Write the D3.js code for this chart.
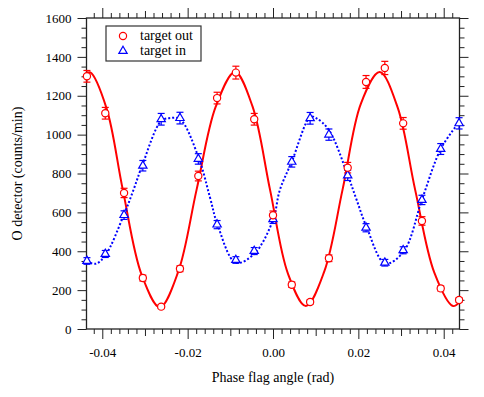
<!DOCTYPE html>
<html>
<head>
<meta charset="utf-8">
<script src="https://d3js.org/d3.v7.min.js"></script>
<style>
  body { margin: 0; background: #fff; }
</style>
</head>
<body>
<div class="chart"></div>
<script>
// measured points (phase flag angle, rad)
const angles = [-0.0436, -0.0393, -0.0349, -0.0305, -0.0262, -0.0218, -0.0175, -0.0131, -0.0087, -0.0044,
  0.0000, 0.0044, 0.0087, 0.0131, 0.0175, 0.0218, 0.0262, 0.0305, 0.0349, 0.0393, 0.0436];
const targetOut = [1300, 1110, 700, 262, 115, 310, 787, 1188, 1319, 1079, 585, 228, 139, 364, 830, 1271, 1343, 1058, 556, 209, 149];
const targetOutErr = [30, 30, 24, 15, 10, 15, 25, 30, 33, 30, 22, 14, 11, 17, 27, 33, 34, 30, 22, 13, 11];
const targetIn = [350, 386, 586, 840, 1079, 1085, 875, 537, 355, 401, 565, 860, 1084, 1000, 790, 521, 341, 405, 664, 926, 1058];
const targetInErr = [17, 18, 22, 27, 30, 30, 27, 21, 17, 18, 22, 27, 30, 29, 26, 21, 17, 18, 24, 28, 29];

// fitted curves
const fitOutX = [-0.0437, -0.0428, -0.0390, -0.0352, -0.0308, -0.0265, -0.0222, -0.0179, -0.0134, -0.0089, -0.0048,
  -0.0007, 0.0035, 0.0077, 0.0120, 0.0163, 0.0206, 0.0250, 0.0292, 0.0333, 0.0378, 0.0422, 0.0437];
const fitOutY = [1316, 1320, 1135, 717, 280, 112, 295, 717, 1145, 1322, 1145, 717, 285, 118, 295, 717, 1160, 1322, 1140, 717, 290, 118, 140];
const fitInX = [-0.0437, -0.0415, -0.0393, -0.0349, -0.0327, -0.0306, -0.0262, -0.0241, -0.0218, -0.0175, -0.0148,
  -0.0131, -0.0087, -0.0043, 0.0000, 0.0016, 0.0044, 0.0088, 0.0102, 0.0131, 0.0175, 0.0196, 0.0219, 0.0263,
  0.0306, 0.0350, 0.0394, 0.0437];
const fitInY = [346, 336, 378, 590, 715, 844, 1070, 1085, 1080, 886, 680, 544, 341, 389, 561, 715, 861, 1092, 1084, 1024,
  792, 664, 526, 337, 398, 672, 930, 1066];

const xMajor = [-0.04, -0.02, 0.00, 0.02, 0.04];
const xMid = [-0.03, -0.01, 0.01, 0.03];
const yMajor = [0, 200, 400, 600, 800, 1000, 1200, 1400, 1600];
const legendLabels = ["target out", "target in"];

const width = 484, height = 397;
const plotL = 86.5, plotR = 459.5, plotT = 18, plotB = 329;
const serif = "'Liberation Serif', 'DejaVu Serif', 'Times New Roman', serif";

const svg = d3.select(".chart").append("svg")
    .attr("width", width)
    .attr("height", height)
    .style("font-family", serif);

const x = d3.scaleLinear().domain([-0.0437, 0.0437]).range([plotL, plotR]);
const y = d3.scaleLinear().domain([0, 1600]).range([plotB, plotT]);

const xMinor = d3.range(-0.042, 0.0431, 0.002).filter(v => !xMajor.concat(xMid).some(m => Math.abs(m - v) < 1e-6));
const yMinor = d3.range(0, 1601, 50).filter(v => v % 200 !== 0);

function styleAxis(g) {
    g.attr("font-family", null).attr("font-size", null);
    g.select(".domain").remove();
    g.selectAll("line").attr("stroke", "#222").attr("stroke-width", 1);
    g.selectAll("text")
        .style("font-family", serif)
        .style("font-size", "13px")
        .attr("fill", "#000");
}

// bottom
svg.append("g").attr("transform", `translate(0,${plotB})`)
    .call(d3.axisBottom(x).tickValues(xMinor).tickSize(5).tickFormat("")).call(styleAxis);
svg.append("g").attr("transform", `translate(0,${plotB})`)
    .call(d3.axisBottom(x).tickValues(xMid).tickSize(7).tickFormat("")).call(styleAxis);
svg.append("g").attr("transform", `translate(0,${plotB})`)
    .call(d3.axisBottom(x).tickValues(xMajor).tickSize(10).tickPadding(9)
        .tickFormat(d => d3.format(".2f")(d).replace("\u2212", "-"))).call(styleAxis);
// top
svg.append("g").attr("transform", `translate(0,${plotT})`)
    .call(d3.axisTop(x).tickValues(xMinor).tickSize(5).tickFormat("")).call(styleAxis);
svg.append("g").attr("transform", `translate(0,${plotT})`)
    .call(d3.axisTop(x).tickValues(xMid).tickSize(7).tickFormat("")).call(styleAxis);
svg.append("g").attr("transform", `translate(0,${plotT})`)
    .call(d3.axisTop(x).tickValues(xMajor).tickSize(10).tickFormat("")).call(styleAxis);
// left
svg.append("g").attr("transform", `translate(${plotL},0)`)
    .call(d3.axisLeft(y).tickValues(yMinor).tickSize(5).tickFormat("")).call(styleAxis);
svg.append("g").attr("transform", `translate(${plotL},0)`)
    .call(d3.axisLeft(y).tickValues(yMajor).tickSize(9).tickPadding(6).tickFormat(d3.format("d"))).call(styleAxis);
// right
svg.append("g").attr("transform", `translate(${plotR},0)`)
    .call(d3.axisRight(y).tickValues(yMinor).tickSize(5).tickFormat("")).call(styleAxis);
svg.append("g").attr("transform", `translate(${plotR},0)`)
    .call(d3.axisRight(y).tickValues(yMajor).tickSize(9).tickFormat("")).call(styleAxis);

// frame
svg.append("rect")
    .attr("x", plotL).attr("y", plotT)
    .attr("width", plotR - plotL).attr("height", plotB - plotT)
    .attr("fill", "none").attr("stroke", "#222").attr("stroke-width", 1.3);

// axis titles
svg.append("text")
    .attr("x", x(0)).attr("y", 382)
    .attr("text-anchor", "middle")
    .style("font-family", serif)
    .style("font-size", "14px")
    .text("Phase flag angle (rad)");
svg.append("text")
    .attr("transform", `translate(22,${(plotT + plotB) / 2}) rotate(-90)`)
    .attr("text-anchor", "middle")
    .style("font-family", serif)
    .style("font-size", "14px")
    .text("O detector (counts/min)");

// fitted curves
svg.append("clipPath").attr("id", "plot")
    .append("rect").attr("x", plotL).attr("y", plotT).attr("width", plotR - plotL).attr("height", plotB - plotT);

const line = d3.line()
    .x(d => x(d[0]))
    .y(d => y(d[1]))
    .curve(d3.curveCatmullRom.alpha(0.5));

svg.append("path")
    .datum(fitOutX.map((v, i) => [v, fitOutY[i]]))
    .attr("clip-path", "url(#plot)")
    .attr("fill", "none")
    .attr("stroke", "#ff0000")
    .attr("stroke-width", 2)
    .attr("d", line);

svg.append("path")
    .datum(fitInX.map((v, i) => [v, fitInY[i]]))
    .attr("clip-path", "url(#plot)")
    .attr("fill", "none")
    .attr("stroke", "#0000ff")
    .attr("stroke-width", 2)
    .attr("stroke-dasharray", "2,2")
    .attr("d", line);

// error bars
function errorBars(values, errs, color) {
    const g = svg.append("g").attr("stroke", color).attr("stroke-width", 1.2);
    const pts = angles.map((a, i) => ({ a, v: values[i], e: errs[i] }));
    g.selectAll(".bar").data(pts).enter().append("line")
        .attr("x1", d => x(d.a)).attr("x2", d => x(d.a))
        .attr("y1", d => y(d.v - d.e)).attr("y2", d => y(d.v + d.e));
    g.selectAll(".capHi").data(pts).enter().append("line")
        .attr("x1", d => x(d.a) - 3.5).attr("x2", d => x(d.a) + 3.5)
        .attr("y1", d => y(d.v + d.e)).attr("y2", d => y(d.v + d.e));
    g.selectAll(".capLo").data(pts).enter().append("line")
        .attr("x1", d => x(d.a) - 3.5).attr("x2", d => x(d.a) + 3.5)
        .attr("y1", d => y(d.v - d.e)).attr("y2", d => y(d.v - d.e));
}
errorBars(targetIn, targetInErr, "#0000ff");
errorBars(targetOut, targetOutErr, "#ff0000");

const tri = d3.symbol().type(d3.symbolTriangle).size(30);

// markers
svg.append("g").selectAll("path")
    .data(angles.map((a, i) => [a, targetIn[i]]))
    .enter().append("path")
    .attr("transform", d => `translate(${x(d[0])},${y(d[1])})`)
    .attr("d", tri)
    .attr("fill", "#fff")
    .attr("stroke", "#0000ff")
    .attr("stroke-width", 1.2);

svg.append("g").selectAll("circle")
    .data(angles.map((a, i) => [a, targetOut[i]]))
    .enter().append("circle")
    .attr("cx", d => x(d[0]))
    .attr("cy", d => y(d[1]))
    .attr("r", 3.6)
    .attr("fill", "#fff")
    .attr("stroke", "#ff0000")
    .attr("stroke-width", 1.2);

// legend
const legend = svg.append("g");
legend.append("rect")
    .attr("x", 106).attr("y", 26).attr("width", 95).attr("height", 35)
    .attr("fill", "#fff").attr("stroke", "#333").attr("stroke-width", 1.2);
legend.append("circle")
    .attr("cx", 123).attr("cy", 36).attr("r", 3.6)
    .attr("fill", "#fff").attr("stroke", "#ff0000").attr("stroke-width", 1.2);
legend.append("path")
    .attr("transform", "translate(123,51)")
    .attr("d", tri)
    .attr("fill", "#fff").attr("stroke", "#0000ff").attr("stroke-width", 1.2);
legend.selectAll(".lab").data(legendLabels).enter().append("text")
    .attr("x", 140)
    .attr("y", (d, i) => 40 + i * 15)
    .style("font-family", serif)
    .style("font-size", "14px")
    .text(d => d);
</script>
</body>
</html>
